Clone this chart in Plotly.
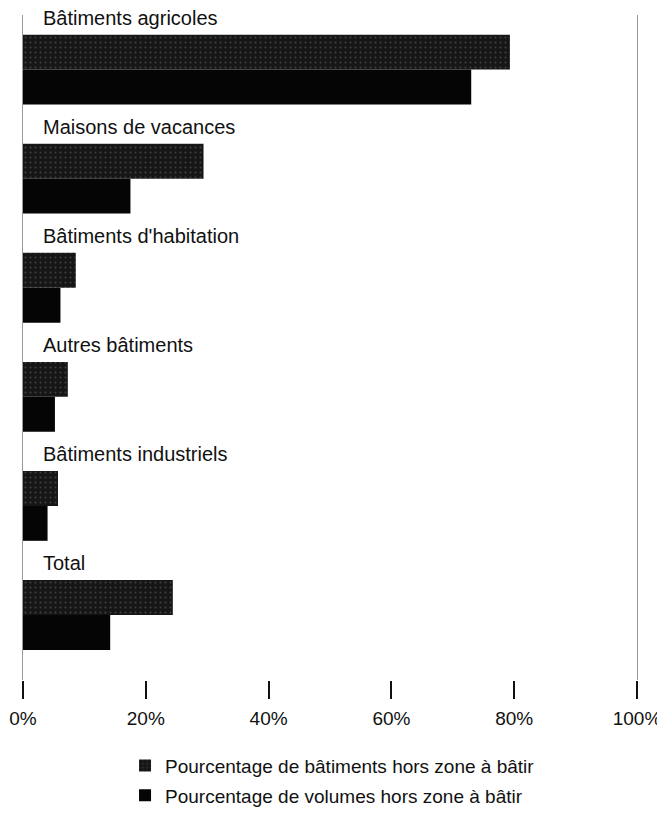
import plotly.graph_objects as go

categories = ["Bâtiments agricoles", "Maisons de vacances", "Bâtiments d'habitation",
              "Autres bâtiments", "Bâtiments industriels", "Total"]
pct_buildings = [79.3, 29.4, 8.6, 7.3, 5.7, 24.4]
pct_volumes = [73.0, 17.5, 6.1, 5.2, 4.0, 14.2]
series_names = ["Pourcentage de bâtiments hors zone à bâtir",
                "Pourcentage de volumes hors zone à bâtir"]
tick_vals = [0, 20, 40, 60, 80, 100]
tick_text = ["0%", "20%", "40%", "60%", "80%", "100%"]

FONT = "Liberation Sans, Arial, sans-serif"

fig = go.Figure()
fig.add_trace(go.Bar(
    y=categories, x=pct_buildings, orientation="h", name=series_names[0],
    legendgroup="a",
    marker=dict(color="#151515", line=dict(width=0),
                pattern=dict(shape=".", fgcolor="#6a6a6a", bgcolor="#161616",
                             size=5, solidity=0.12)),
))
fig.add_trace(go.Bar(
    y=categories, x=pct_volumes, orientation="h", name=series_names[1],
    legendgroup="b",
    marker=dict(color="#050505", line=dict(width=0)),
))

for c in categories:
    fig.add_annotation(x=0, y=c, xref="x", yref="y", text=c, showarrow=False,
                       xanchor="left", yanchor="middle", xshift=18, yshift=52,
                       font=dict(family=FONT, size=20, color="#111"))

fig.update_layout(
    width=665, height=816,
    margin=dict(l=15, r=36, t=7, b=144, autoexpand=False),
    paper_bgcolor="white", plot_bgcolor="white",
    barmode="group", bargap=0.36, bargroupgap=0,
    showlegend=True,
    legend=dict(x=0.176, xanchor="left", xref="container",
                y=0.053, yanchor="middle", yref="container",
                font=dict(family=FONT, size=19, color="#111"),
                traceorder="grouped", bgcolor="rgba(0,0,0,0)", tracegroupgap=2),
    xaxis=dict(range=[0, 100], tickvals=tick_vals, ticktext=tick_text,
               ticks="outside", ticklen=18, tickwidth=2, tickcolor="#111",
               showgrid=False, zeroline=False, showline=False, automargin=False,
               ticklabelstandoff=3, ticklabeloverflow="allow",
               tickfont=dict(family=FONT, size=19, color="#111"), fixedrange=True),
    yaxis=dict(autorange="reversed", showticklabels=False, showgrid=False,
               zeroline=False, showline=True, mirror=True, linecolor="#9a9a9a",
               linewidth=1, ticks="", automargin=False),
)

fig.write_html("out.html")
